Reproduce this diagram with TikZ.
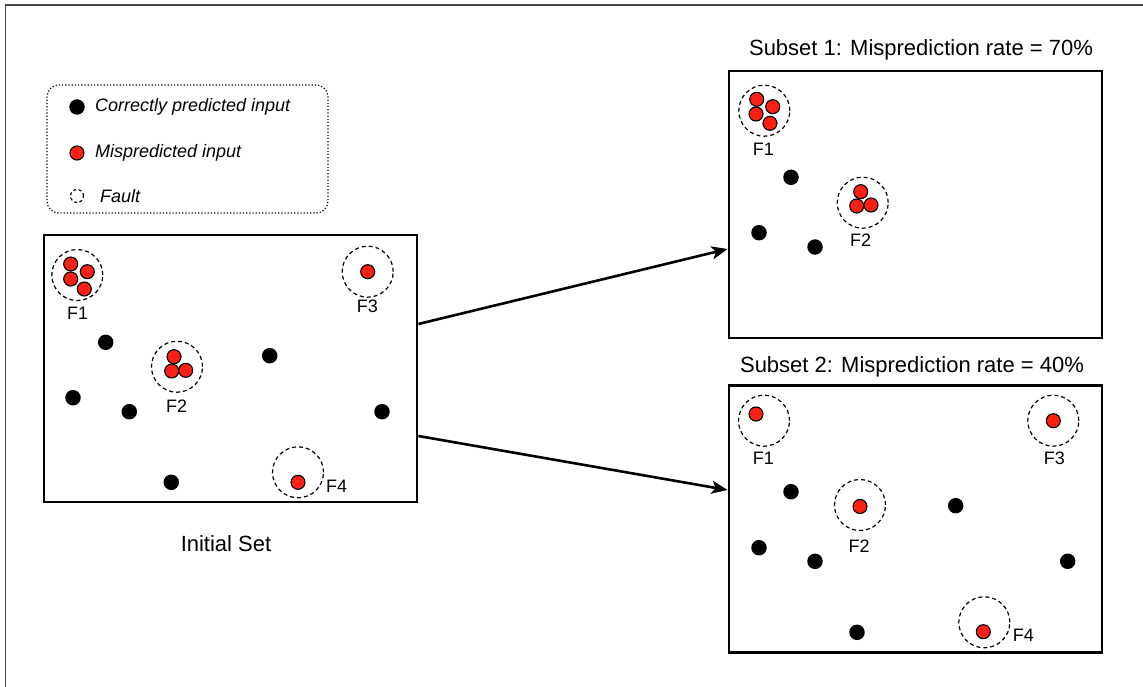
\documentclass[tikz,border=0pt]{standalone}
\usepackage{fontspec}
\setmainfont{Liberation Sans}
\usetikzlibrary{arrows.meta}
\definecolor{myred}{RGB}{250,32,20}
\definecolor{framegray}{RGB}{70,70,70}
\begin{document}
\begin{tikzpicture}[x=1pt,y=-1pt,
 setbox/.style={draw, line width=2.8pt, minimum width=373pt, minimum height=267pt, inner sep=0pt},
 bdot/.style={circle, fill=black, inner sep=0pt, minimum size=15.5pt},
 rdot/.style={circle, fill=myred, draw=black, line width=1.1pt, inner sep=0pt, minimum size=14pt},
 fault/.style={circle, draw=black, dash pattern=on 4pt off 3pt, line width=1.2pt, inner sep=0pt, minimum size=51pt},
 flabel/.style={font=\fontsize{18}{20}\selectfont, inner sep=0pt},
 title/.style={font=\fontsize{22}{24}\selectfont, inner sep=0pt},
 legtext/.style={font=\fontsize{18}{20}\selectfont\itshape, anchor=west, inner sep=0pt},
 arr/.style={line width=2.6pt, -{Stealth[length=16pt,width=13pt,inset=4pt]}}]
\useasboundingbox (0,0) rectangle (1143,687);
\draw[framegray, line width=1.5pt] (5.5,687) -- (5.5,5) -- (1143,5);

% legend
\node[draw, dash pattern=on 1.2pt off 2pt, rounded corners=12pt, line width=1.2pt, minimum width=281pt, minimum height=128pt, inner sep=0pt] (legend) at (187.5,149) {};
\node[bdot] (lg-b) at (77,107) {};
\node[legtext] (lg-bt) at (95,107) {Correctly predicted input};
\node[rdot] (lg-r) at (77,153) {};
\node[legtext] (lg-rt) at (95,153) {Mispredicted input};
\node[fault, minimum size=13pt, dash pattern=on 3pt off 2.5pt] (lg-f) at (77,196) {};
\node[legtext] (lg-ft) at (100,196) {Fault};

% boxes
\node[setbox] (init) at (230.5,368.5) {};
\node[setbox] (sub1) at (915.5,204.5) {};
\node[setbox] (sub2) at (915.5,519) {};

% titles
\node[title] (t1) at (921,50) {Subset 1: Misprediction rate = 70\%};
\node[title] (t2) at (912,367) {Subset 2: Misprediction rate = 40\%};
\node[title] (tinit) at (226,544) {Initial Set};

% initial set
\node[fault] (i-f1) at (77.3,275) {};
\node[rdot] (i-f1a) at (70.7,264) {};
\node[rdot] (i-f1b) at (87.3,271.7) {};
\node[rdot] (i-f1c) at (70.7,279) {};
\node[rdot] (i-f1d) at (84.3,289) {};
\node[flabel] (i-l1) at (77.7,313.3) {F1};
\node[fault] (i-f3) at (367.7,271.7) {};
\node[rdot] (i-f3a) at (367.7,271.7) {};
\node[flabel] (i-l3) at (367.3,306.7) {F3};
\node[fault] (i-f2) at (177,366.7) {};
\node[rdot] (i-f2a) at (174,356.7) {};
\node[rdot] (i-f2b) at (171.7,371) {};
\node[rdot] (i-f2c) at (185.7,370.3) {};
\node[flabel] (i-l2) at (176.7,406.7) {F2};
\node[fault] (i-f4) at (298,472.3) {};
\node[rdot] (i-f4a) at (298,482.3) {};
\node[flabel] (i-l4) at (336.7,486) {F4};
\node[bdot] (i-b1) at (105.7,342.3) {};
\node[bdot] (i-b2) at (269.7,355.7) {};
\node[bdot] (i-b3) at (73,397.7) {};
\node[bdot] (i-b4) at (129.3,411.7) {};
\node[bdot] (i-b5) at (382,411.7) {};
\node[bdot] (i-b6) at (171.3,482.3) {};

% subset 1
\node[fault] (s1-f1) at (764.3,110.7) {};
\node[rdot] (s1-f1a) at (756.7,99.3) {};
\node[rdot] (s1-f1b) at (772.7,106.7) {};
\node[rdot] (s1-f1c) at (756,114) {};
\node[rdot] (s1-f1d) at (770,123.3) {};
\node[flabel] (s1-l1) at (763.3,149.3) {F1};
\node[fault] (s1-f2) at (862.7,202.7) {};
\node[rdot] (s1-f2a) at (860.7,191.7) {};
\node[rdot] (s1-f2b) at (856.7,206) {};
\node[rdot] (s1-f2c) at (871,205) {};
\node[flabel] (s1-l2) at (860.7,240.7) {F2};
\node[bdot] (s1-b1) at (791,177.3) {};
\node[bdot] (s1-b2) at (759,232.7) {};
\node[bdot] (s1-b3) at (815,247) {};

% subset 2
\node[fault] (s2-f1) at (764,420.7) {};
\node[rdot] (s2-f1a) at (756,414) {};
\node[flabel] (s2-l1) at (763.3,458.3) {F1};
\node[fault] (s2-f3) at (1053.3,420.7) {};
\node[rdot] (s2-f3a) at (1053.3,420.7) {};
\node[flabel] (s2-l3) at (1054.3,458.3) {F3};
\node[fault] (s2-f2) at (860,505) {};
\node[rdot] (s2-f2a) at (860,506.5) {};
\node[flabel] (s2-l2) at (859,546.7) {F2};
\node[fault] (s2-f4) at (984.3,622.3) {};
\node[rdot] (s2-f4a) at (983.3,631.7) {};
\node[flabel] (s2-l4) at (1023.3,635) {F4};
\node[bdot] (s2-b1) at (791,491.7) {};
\node[bdot] (s2-b2) at (955.7,505.7) {};
\node[bdot] (s2-b3) at (759,547.7) {};
\node[bdot] (s2-b4) at (815,561.3) {};
\node[bdot] (s2-b5) at (1067.7,561.3) {};
\node[bdot] (s2-b6) at (857,632.3) {};

% arrows
\draw[arr] ([yshift=44.5pt]init.east) -- ([yshift=-44.5pt]sub1.west);
\draw[arr] ([yshift=-67.5pt]init.east) -- ([yshift=29pt]sub2.west);
\end{tikzpicture}
\end{document}
